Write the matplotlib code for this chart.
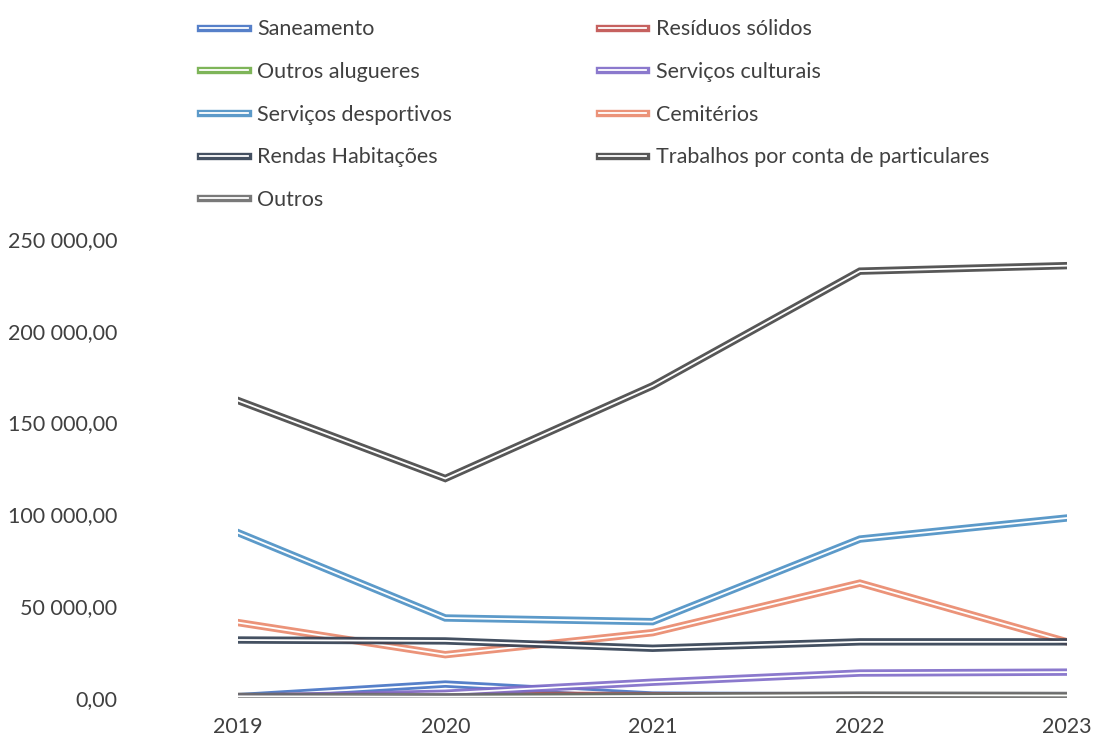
import matplotlib.pyplot as plt
import matplotlib.patheffects as pe
from matplotlib.ticker import FuncFormatter

# Receitas por tipo de serviço, 2019-2023
years = ['2019', '2020', '2021', '2022', '2023']

saneamento = [600, 7500, 1500, 1000, 800]
residuos_solidos = [500, 1500, 1200, 600, 400]
outros_alugueres = [200, 300, 300, 300, 300]
servicos_culturais = [300, 2500, 8500, 13500, 14000]
servicos_desportivos = [90000, 43500, 41500, 86500, 98000]
cemiterios = [41000, 23500, 35500, 62500, 30500]
rendas_habitacoes = [31500, 31000, 27000, 30500, 30500]
trabalhos_particulares = [162000, 119500, 170000, 232500, 235500]
outros = [800, 600, 1000, 1500, 1300]

series = [
    ('Saneamento', saneamento, '#4472C4'),
    ('Resíduos sólidos', residuos_solidos, '#C0504D'),
    ('Outros alugueres', outros_alugueres, '#70AD47'),
    ('Serviços culturais', servicos_culturais, '#7F6BC8'),
    ('Serviços desportivos', servicos_desportivos, '#4A8FC4'),
    ('Cemitérios', cemiterios, '#E9876A'),
    ('Rendas Habitações', rendas_habitacoes, '#2F3D50'),
    ('Trabalhos por conta de particulares', trabalhos_particulares, '#454545'),
    ('Outros', outros, '#6A6A6A'),
]

plt.rcParams['font.family'] = ['Lato', 'DejaVu Sans']

fig = plt.figure(figsize=(10.94, 7.40), dpi=100)
ax = fig.add_axes([0.2175, 0.057, 0.758, 0.62])

x = list(range(len(years)))
handles = []
for name, vals, col in series:
    # double line look: coloured wide stroke with a thin white core
    ln, = ax.plot(x, vals, color='white', lw=1.3, label=name, solid_joinstyle='miter',
                  path_effects=[pe.Stroke(linewidth=5.3, foreground=col, alpha=0.9), pe.Normal()])
    handles.append(ln)

ax.set_xlim(0, 4)
ax.set_ylim(0, 250000)
ax.set_yticks(range(0, 250001, 50000))
ax.yaxis.set_major_formatter(FuncFormatter(
    lambda v, p: '{:,.2f}'.format(v).replace(',', ' ').replace('.', ',')))
ax.set_xticks(x)
ax.set_xticklabels(years)
for s in ax.spines.values():
    s.set_visible(False)
ax.tick_params(axis='both', length=0, labelsize=15.5, colors='#404040')
ax.tick_params(axis='y', pad=87)
ax.tick_params(axis='x', pad=14)

# Excel fills the legend row by row; matplotlib fills column by column
order = [0, 2, 4, 6, 8, 1, 3, 5, 7]
fig.legend(handles=[handles[i] for i in order], ncol=2, loc='upper left',
           bbox_to_anchor=(0.1655, 1.0), frameon=False, fontsize=15.5,
           labelcolor='#404040', handlelength=2.2, handletextpad=0.45,
           labelspacing=1.05, columnspacing=6.8)

fig.savefig('out.png', dpi=100)
